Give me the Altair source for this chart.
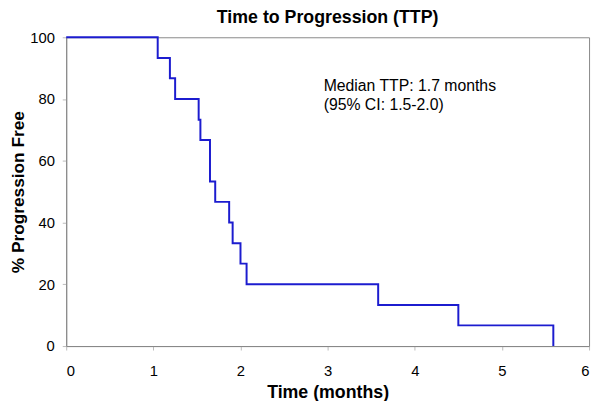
import altair as alt
import pandas as pd

# Kaplan-Meier step points (time in months, % progression free)
times = [0, 1.05, 1.19, 1.25, 1.52, 1.54, 1.65, 1.71, 1.87, 1.91, 2.00, 2.07, 3.58, 4.50, 5.59]
surv = [100, 93.3, 86.7, 80.0, 73.3, 66.7, 53.3, 46.7, 40.0, 33.3, 26.7, 20.0, 13.3, 6.7, 0]
annotation = ["Median TTP: 1.7 months", "(95% CI: 1.5-2.0)"]

df = pd.DataFrame({"t": times, "s": surv})

FONT = "Liberation Sans"

line = alt.Chart(df).mark_line(
    interpolate="step-after", color="#1c1ccf", strokeWidth=2
).encode(
    x=alt.X("t:Q", scale=alt.Scale(domain=[0, 6], nice=False, zero=True),
            axis=alt.Axis(title="Time (months)", values=[0, 1, 2, 3, 4, 5, 6],
                          grid=False, tickSize=4, labelPadding=14, titlePadding=5,
                          domainColor="#888888", tickColor="#bbbbbb",
                          labelFontSize=15, titleFontSize=18, titleFontWeight="bold",
                          labelColor="#000000", titleColor="#000000",
                          labelFont=FONT, titleFont=FONT)),
    y=alt.Y("s:Q", scale=alt.Scale(domain=[0, 100], nice=False),
            axis=alt.Axis(title="% Progression Free", values=[0, 20, 40, 60, 80, 100],
                          grid=False, tickSize=4, labelPadding=8, titlePadding=2,
                          domainColor="#888888", tickColor="#bbbbbb",
                          labelFontSize=15, titleFontSize=17.5, titleFontWeight="bold",
                          labelColor="#000000", titleColor="#000000",
                          labelFont=FONT, titleFont=FONT)),
)

text = alt.Chart(pd.DataFrame({"lines": [annotation]})).mark_text(
    align="left", baseline="top", fontSize=16, font=FONT, color="#000000",
    lineHeight=20
).encode(
    x=alt.value(261), y=alt.value(41), text="lines:N"
)

chart = (line + text).properties(
    width=530, height=313,
    title=alt.TitleParams("Time to Progression (TTP)", fontSize=18, font=FONT,
                          fontWeight="bold", color="#000000", anchor="middle",
                          offset=3),
    autosize=alt.AutoSizeParams(type="none"),
    padding={"left": 59, "top": 27, "right": 4, "bottom": 53},
).configure_view(stroke="#888888", strokeWidth=1)

chart.save("out.html", embed_options={"renderer": "svg", "actions": False})
